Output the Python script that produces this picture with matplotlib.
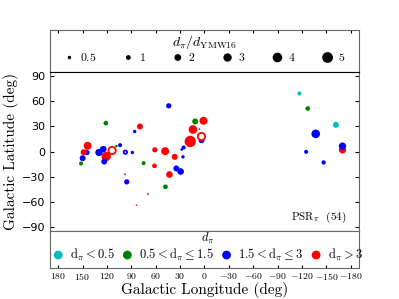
import matplotlib
matplotlib.use('Agg')
import matplotlib.pyplot as plt
import numpy as np

plt.rcParams['mathtext.fontset'] = 'cm'
plt.rcParams['axes.unicode_minus'] = True

# galactic longitude / latitude (deg), distance ratio d_pi/d_YMW16, colour class
lon = [-116.8, -127.0, -161.6, -136.8, -125.0, -169.7, -169.7, -146.5,
       44.0, 121.3, 79.4, 85.9, 11.4, 1.2, 14.2, 17.5, 3.7, 3.7, 6.1,
       25.6, 28.0, 26.5, 36.6, 48.4, 61.0, 61.5, 74.9, 34.6, 29.3, 43.1,
       48.0, 95.6, 97.7, 69.6, 83.4, 97.3, 88.7, 103.8, 108.3, 113.6,
       115.6, 120.9, 123.3, 124.5, 129.8, 143.7, 144.5, 148.6, 149.8, 151.8]
lat = [69.3, 51.4, 31.9, 21.1, -0.4, 2.0, 6.4, -13.1,
       54.6, 33.9, 29.9, 23.9, 35.9, 36.7, 26.3, 12.0, 17.9, 13.5, 26.7,
       4.8, 2.4, -6.4, -6.4, 0.4, 2.0, -17.1, -13.9, -20.3, -23.9, -27.5,
       -42.2, -36.3, -27.1, -51.0, -64.1, -0.8, -1.2, 7.6, 6.4, 1.2,
       0.0, -6.0, -12.0, 2.8, -1.2, 6.8, -1.2, -0.8, -8.0, -14.3]
ratio = [0.7, 0.95, 1.55, 3.2, 0.7, 2.3, 2.3, 0.8,
         1.2, 0.95, 1.55, 0.5, 1.55, 2.75, 3.2, 5.5, 2.3, 1.55, 0.1,
         0.7, 0.3, 0.5, 1.55, 2.75, 1.2, 0.95, 0.7, 1.55, 1.9, 1.9,
         0.95, 1.2, 0.15, 0.15, 0.1, 0.5, 0.5, 0.7, 0.3, 2.3,
         0.95, 3.75, 1.55, 1.9, 2.3, 2.75, 1.2, 1.55, 1.55, 0.7]
dclass = [0, 1, 0, 2, 2, 3, 2, 2,
          2, 1, 3, 2, 1, 3, 3, 3, 3, 2, 2,
          2, 2, 2, 3, 3, 3, 3, 1, 2, 2, 3,
          1, 2, 3, 3, 3, 2, 2, 2, 1, 3,
          2, 3, 2, 2, 2, 3, 2, 3, 2, 1]
hollow = [16, 35, 39]

class_colors = ['c', 'g', 'b', 'r']
class_labels = [r'$\rm d_\pi < 0.5$', r'$\rm 0.5 < d_\pi \leq 1.5$',
                r'$\rm 1.5 < d_\pi \leq 3$', r'$\rm d_\pi > 3$']
size_keys = [0.5, 1, 2, 3, 4, 5]
n_psr = 54
scale = 12.

fig = plt.figure(figsize=(3.99, 2.99), dpi=100)
left, width = 0.1253, 0.7744
ax_top = fig.add_axes([left, 0.759, width, 0.1405])
ax = fig.add_axes([left, 0.2274, width, 0.5318])
ax_bot = fig.add_axes([left, 0.1037, width, 0.1237])

xticks = np.arange(180, -181, -30)
for a in (ax_top, ax, ax_bot):
    a.set_xlim(190, -190)
    a.set_xticks(xticks)
    for s in a.spines.values():
        s.set_color('0.4')

# main panel
lon = np.array(lon); lat = np.array(lat); ratio = np.array(ratio)
dclass = np.array(dclass)
filled = np.ones(len(lon), bool)
filled[hollow] = False
cols = np.array(class_colors)[dclass]
ax.scatter(lon[filled], lat[filled], s=scale * ratio[filled], c=cols[filled],
           edgecolors='none', zorder=3)
ax.scatter(lon[~filled], lat[~filled], s=scale * ratio[~filled], facecolors='white',
           edgecolors=cols[~filled], linewidths=1.3, zorder=4)
ax.set_ylim(-95, 95)
ax.set_yticks(np.arange(-90, 91, 30))
ax.tick_params(axis='y', direction='in', left=True, right=True, labelsize=8, length=3)
ax.tick_params(axis='x', length=0, labelbottom=False)
ax.spines['top'].set_color('k')
ax.spines['bottom'].set_color('k')
ax.set_ylabel('Galactic Latitude (deg)', family='cmr10', fontsize=11, labelpad=2)
ax.text(0.96, 0.04, r'PSR$_\pi$  (%d)' % n_psr, transform=ax.transAxes,
        ha='right', va='bottom', fontsize=8, family='cmr10')

# top: size key
ax_top.set_yticks([])
ax_top.tick_params(axis='x', direction='in', top=True, bottom=False,
                   labelbottom=False, length=2)
handles = [ax_top.scatter([], [], s=scale * k, c='k', edgecolors='none') for k in size_keys]
ax_top.legend(handles, [r'$%g$' % k for k in size_keys], ncol=6, loc='center',
              bbox_to_anchor=(0.5, 0.57), frameon=False,
              title=r'$d_\pi/d_{\rm YMW16}$', fontsize=8.5, title_fontsize=10,
              columnspacing=2.2, handlelength=1.0, handletextpad=0.4,
              labelspacing=0.0, borderpad=0.1)

# bottom: colour key
ax_bot.set_yticks([])
ax_bot.tick_params(axis='x', direction='in', top=False, bottom=True, length=2,
                   labelsize=7, pad=2)
ax_bot.set_xticklabels([r'$%d$' % t for t in xticks])
handles = [ax_bot.scatter([], [], s=40, c=c, edgecolors='none') for c in class_colors]
ax_bot.legend(handles, class_labels, ncol=4, loc='center',
              bbox_to_anchor=(0.51, 0.58), frameon=False,
              title=r'$d_\pi$', fontsize=9, title_fontsize=9, columnspacing=0.5,
              handlelength=1.0, handletextpad=0.45, labelspacing=0.0,
              borderpad=0.1)
ax_bot.set_xlabel('Galactic Longitude (deg)', family='cmr10', fontsize=11, labelpad=0)

fig.savefig('out.png', dpi=100)
